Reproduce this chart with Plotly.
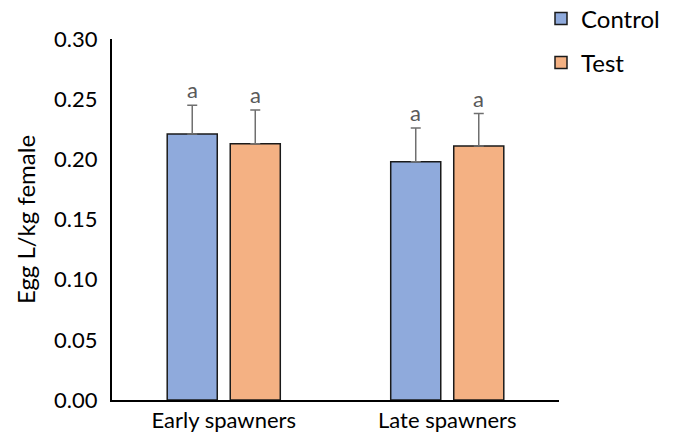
import plotly.graph_objects as go

categories = ["Early spawners", "Late spawners"]
control_vals = [0.221, 0.198]
control_err = [0.024, 0.028]
test_vals = [0.213, 0.211]
test_err = [0.028, 0.027]
sig_control = ["a", "a"]
sig_test = ["a", "a"]
y_ticks = [0.00, 0.05, 0.10, 0.15, 0.20, 0.25, 0.30]

FONT = "Lato"
W, H = 660, 428
BARGAP, GROUPGAP = 0.436, 0.206
fig = go.Figure()
fig.add_trace(go.Bar(
    x=categories, y=control_vals, name="Control",
    marker=dict(color="#8faadc", line=dict(color="#1a1a1a", width=1.5)),
    error_y=dict(type="data", array=control_err, visible=True, symmetric=False,
                 arrayminus=[0, 0], color="#6f6f6f", thickness=1.5, width=5),
    legend="legend",
))
fig.add_trace(go.Bar(
    x=categories, y=test_vals, name="Test",
    marker=dict(color="#f4b183", line=dict(color="#1a1a1a", width=1.5)),
    error_y=dict(type="data", array=test_err, visible=True, symmetric=False,
                 arrayminus=[0, 0], color="#6f6f6f", thickness=1.5, width=5),
    legend="legend2",
))

# significance letters, centred over each bar of the group
half_slot = (1 - BARGAP) / 4
for i, cat in enumerate(categories):
    for off, vals, errs, sig in [(-1, control_vals, control_err, sig_control),
                                 (1, test_vals, test_err, sig_test)]:
        fig.add_annotation(
            x=i + off * half_slot, y=vals[i] + errs[i], text=sig[i],
            xref="x", yref="y", showarrow=False, yanchor="bottom", yshift=0,
            font=dict(family=FONT, size=22, color="#595959"),
        )

fig.update_layout(
    width=W, height=H,
    margin=dict(l=104, r=109, t=31, b=36, autoexpand=False),
    paper_bgcolor="white", plot_bgcolor="white",
    font=dict(family=FONT, size=22, color="#000000"),
    barmode="group", bargap=BARGAP, bargroupgap=GROUPGAP,
    legend=dict(x=533 / W, y=1 - 11 / H, xref="container", yref="container",
                xanchor="left", yanchor="middle",
                font=dict(family=FONT, size=24), bgcolor="rgba(0,0,0,0)"),
    legend2=dict(x=533 / W, y=1 - 55 / H, xref="container", yref="container",
                 xanchor="left", yanchor="middle",
                 font=dict(family=FONT, size=24), bgcolor="rgba(0,0,0,0)"),
    showlegend=True,
)
fig.update_xaxes(
    type="category", showline=True, linecolor="#000000", linewidth=2,
    ticks="", showgrid=False, tickfont=dict(family=FONT, size=22),
)
fig.update_yaxes(
    range=[0, 0.30], tickvals=y_ticks, tickformat=".2f",
    showline=True, linecolor="#000000", linewidth=2, ticks="",
    showgrid=False, zeroline=False, ticklabelstandoff=8,
    tickfont=dict(family=FONT, size=22),
    title=dict(text="Egg L/kg female", font=dict(family=FONT, size=24), standoff=12),
)

fig.write_html("out.html")
